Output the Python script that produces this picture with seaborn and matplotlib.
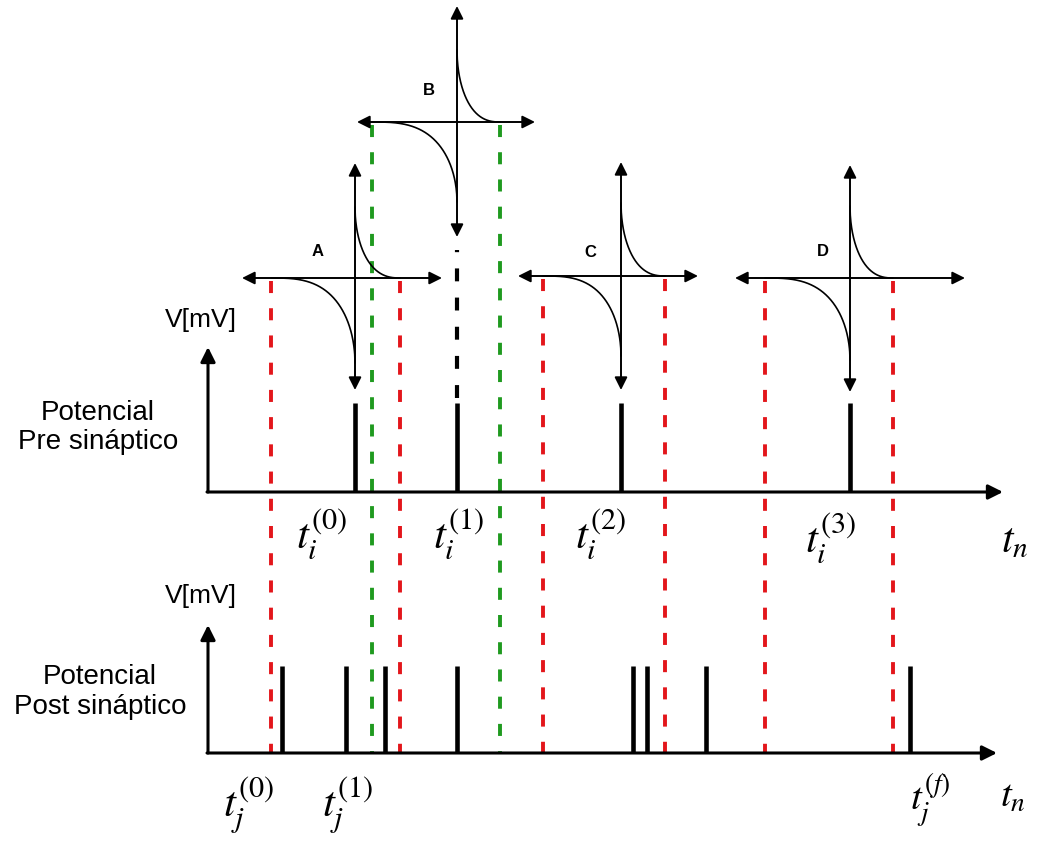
import numpy as np
import pandas as pd
import matplotlib
matplotlib.use("Agg")
import matplotlib.pyplot as plt
import seaborn as sns

# ---------------- data (diagram coordinates, time runs left->right) ----------------
pre_spike_times = [355, 457, 621, 850]
post_spike_times = [282, 346, 385, 457, 633, 647, 706, 910]

window_labels = ["A", "B", "C", "D"]
window_centers = [355, 457, 621, 850]
window_left = [271, 372, 543, 765]
window_right = [400, 500, 665, 893]
window_colors = ["red", "green", "red", "red"]

pre_labels = [r"$t_i^{(0)}$", r"$t_i^{(1)}$", r"$t_i^{(2)}$", r"$t_i^{(3)}$"]
post_labels = [r"$t_j^{(0)}$", r"$t_j^{(1)}$", r"$t_j^{(f)}$"]

# ---------------- layout / styles ----------------
sns.set_theme(style="white")
plt.rcParams["font.family"] = ["Liberation Sans", "DejaVu Sans"]
plt.rcParams["mathtext.fontset"] = "stix"
plt.rcParams["text.color"] = "black"

RED = "#e3161b"
GREEN = "#1f9a1f"
col = {"red": RED, "green": GREEN}

fig = plt.figure(figsize=(10.38, 8.41), dpi=100)
ax = fig.add_axes([0, 0, 1, 1])
ax.set_xlim(0, 1038)
ax.set_ylim(841, 0)
ax.axis("off")

# geometry of the two main panels
x0 = 208
pre_base, pre_top, pre_arrow_top, pre_x_end = 492, 403, 347, 1003
post_base, post_top, post_arrow_top, post_x_end = 753, 666, 625, 997

inset_axis_y = [278, 122, 276, 278]
inset_up = [115, 116, 114, 113]
inset_down = [112, 115, 114, 114]
inset_hleft = [242, 357, 518, 735]
inset_hright = [442, 535, 698, 965]
neg_amp = [85, 80, 80, 82]
pos_amp = [71, 72, 73, 72]

dash = (0, (3.1, 3.9))


def arrow(x1, y1, x2, y2, lw, ms, style="-|>"):
    ax.annotate("", xy=(x2, y2), xytext=(x1, y1),
                arrowprops=dict(arrowstyle=style, lw=lw, color="black",
                                mutation_scale=ms, shrinkA=0, shrinkB=0),
                zorder=5)


# main axes with arrows
arrow(x0, pre_base, x0, pre_arrow_top, 2.2, 22)
arrow(x0 - 1, pre_base, pre_x_end, pre_base, 2.2, 22)
arrow(x0, post_base, x0, post_arrow_top, 2.2, 22)
arrow(x0 - 1, post_base, post_x_end, post_base, 2.2, 22)

# spikes
ax.vlines(pre_spike_times, pre_base, pre_top, color="black", lw=3.3, zorder=4)
ax.vlines(post_spike_times, post_base, post_top, color="black", lw=3.3, zorder=4)

# black dashed continuation above spike t_i^(1)
ax.plot([457, 457], [398, 250], color="black", lw=3.0, linestyle=dash, zorder=3)

# window dashed lines
for i in range(4):
    c = col[window_colors[i]]
    for xv in (window_left[i], window_right[i]):
        ax.plot([xv, xv], [inset_axis_y[i] + 3, post_base - 1], color=c, lw=2.8,
                linestyle=dash, zorder=2)

# STDP insets
for i in range(4):
    cy = inset_axis_y[i]
    cx = window_centers[i]
    arrow(inset_hleft[i], cy, inset_hright[i], cy, 1.4, 19, "<|-|>")
    arrow(cx, cy + inset_down[i], cx, cy - inset_up[i], 1.4, 19, "<|-|>")

    u = np.linspace(0, 1, 300)
    xl = window_left[i] + u * (cx - window_left[i])
    yl = cy + neg_amp[i] * (1 - np.sqrt(1 - u ** 3))
    xr = cx + u * (window_right[i] - cx)
    yr = cy - pos_amp[i] * (1 - np.sqrt(1 - (1 - u) ** 2.5))
    dfl = pd.DataFrame({"t": xl, "w": yl})
    dfr = pd.DataFrame({"t": xr, "w": yr})
    sns.lineplot(data=dfl, x="t", y="w", ax=ax, color="black", lw=1.2, sort=False, zorder=4)
    sns.lineplot(data=dfr, x="t", y="w", ax=ax, color="black", lw=1.2, sort=False, zorder=4)

label_pos = [(318, 251), (429, 90), (590, 252), (823, 251)]
for lab, (lx, ly) in zip(window_labels, label_pos):
    ax.text(lx, ly, lab, fontsize=12, fontweight="bold", ha="center", va="center",
            color="black")

# y labels
ax.text(237, 320, "V[mV]", fontsize=19, ha="right", va="center", color="black")
ax.text(237, 596, "V[mV]", fontsize=19, ha="right", va="center", color="black")
ax.text(98, 427, "Potencial\nPre sináptico", fontsize=20, ha="center", va="center",
        linespacing=1.15, color="black")
ax.text(100, 692, "Potencial\nPost sináptico", fontsize=20, ha="center", va="center",
        linespacing=1.15, color="black")

# time labels
pre_label_pos = [(322, 534), (459, 534), (601, 534), (831, 538)]
for lab, (lx, ly) in zip(pre_labels, pre_label_pos):
    ax.text(lx, ly, lab, fontsize=31, ha="center", va="center", color="black")
ax.text(1015, 541, r"$t_n$", fontsize=30, ha="center", va="center", color="black")

post_label_pos = [(249, 805), (348, 805), (930, 800)]
for lab, (lx, ly) in zip(post_labels, post_label_pos):
    ax.text(lx, ly, lab, fontsize=31 if lab != post_labels[-1] else 28,
            ha="center", va="center", color="black")
ax.text(1013, 797, r"$t_n$", fontsize=28, ha="center", va="center", color="black")

fig.savefig("out.png", dpi=100, facecolor="white")
